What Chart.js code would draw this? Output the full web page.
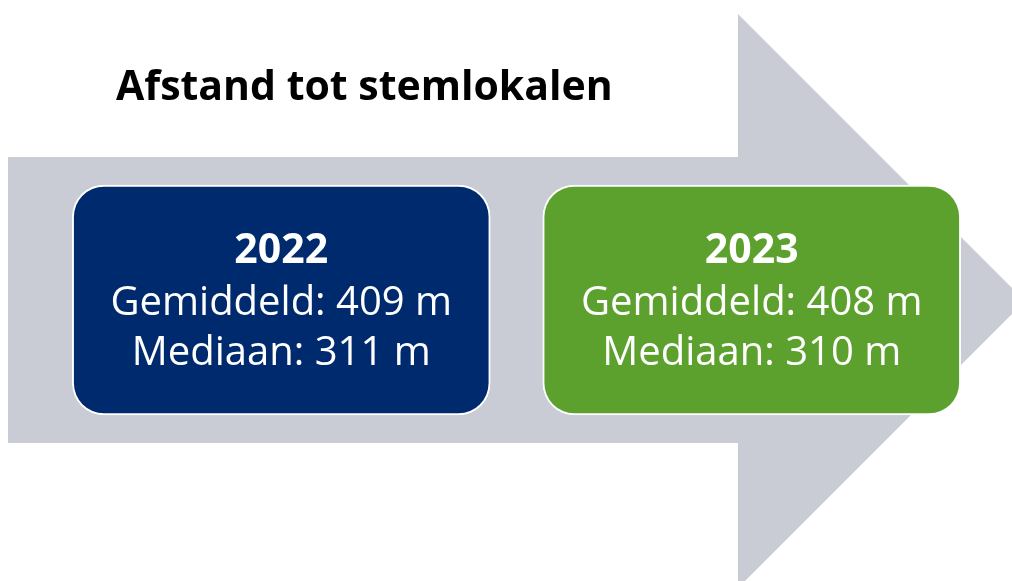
<!DOCTYPE html>
<html>
<head>
<meta charset="utf-8">
<script src="https://cdn.jsdelivr.net/npm/chart.js@4.4.0/dist/chart.umd.min.js"></script>
<style>
  html, body { margin: 0; padding: 0; background: #fff; }
  #wrap { width: 1012px; height: 581px; position: relative; }
</style>
</head>
<body>
<div id="wrap"><canvas id="boxChart"></canvas></div>
<script>
// Data
const chartTitle = 'Afstand tot stemlokalen';
const years = ['2022', '2023'];
const gemiddeld = [409, 408];   // meters
const mediaan = [311, 310];     // meters
const boxColors = ['#002A6E', '#5CA02D'];

// Layout (pixel scale on y, boxes span this range)
const boxTop = 185;
const boxBottom = 415;

// Grey arrow behind the boxes
const arrowPlugin = {
  id: 'arrowBg',
  beforeDatasetsDraw(chart) {
    const ctx = chart.ctx;
    ctx.save();
    ctx.fillStyle = '#C9CCD4';
    ctx.beginPath();
    ctx.moveTo(8, 157);
    ctx.lineTo(738, 157);
    ctx.lineTo(738, 14);
    ctx.lineTo(1025, 301);
    ctx.lineTo(738, 588);
    ctx.lineTo(738, 443);
    ctx.lineTo(8, 443);
    ctx.closePath();
    ctx.fill();
    ctx.restore();
  }
};

// Title and box texts
const textPlugin = {
  id: 'boxText',
  afterDatasetsDraw(chart) {
    const ctx = chart.ctx;
    ctx.save();
    ctx.fillStyle = '#000';
    ctx.textAlign = 'left';
    ctx.textBaseline = 'alphabetic';
    ctx.font = 'bold 41px "Open Sans"';
    ctx.fillText(chartTitle, 116, 100);

    const meta = chart.getDatasetMeta(0);
    ctx.fillStyle = '#fff';
    ctx.textAlign = 'center';
    meta.data.forEach((bar, i) => {
      ctx.font = 'bold 41px "Open Sans"';
      ctx.fillText(years[i], bar.x, 263);
      ctx.font = '40px "Open Sans"';
      ctx.fillText('Gemiddeld: ' + gemiddeld[i] + ' m', bar.x, 315);
      ctx.fillText('Mediaan: ' + mediaan[i] + ' m', bar.x, 365);
    });
    ctx.restore();
  }
};

const ctx = document.getElementById('boxChart').getContext('2d');
new Chart(ctx, {
  type: 'bar',
  data: {
    labels: years,
    datasets: [{
      data: years.map(() => [boxTop, boxBottom]),
      backgroundColor: boxColors,
      borderColor: '#ffffff',
      borderWidth: 2,
      borderRadius: 32,
      borderSkipped: false,
      barThickness: 418
    }]
  },
  options: {
    responsive: true,
    maintainAspectRatio: false,
    animation: false,
    layout: { padding: { left: 46, right: 25, top: 0, bottom: 0 } },
    plugins: {
      legend: { display: false },
      tooltip: { enabled: false },
      title: { display: false }
    },
    scales: {
      x: { display: false, offset: true },
      y: { display: false, min: 0, max: 581, reverse: true }
    }
  },
  plugins: [arrowPlugin, textPlugin]
});
</script>
</body>
</html>
